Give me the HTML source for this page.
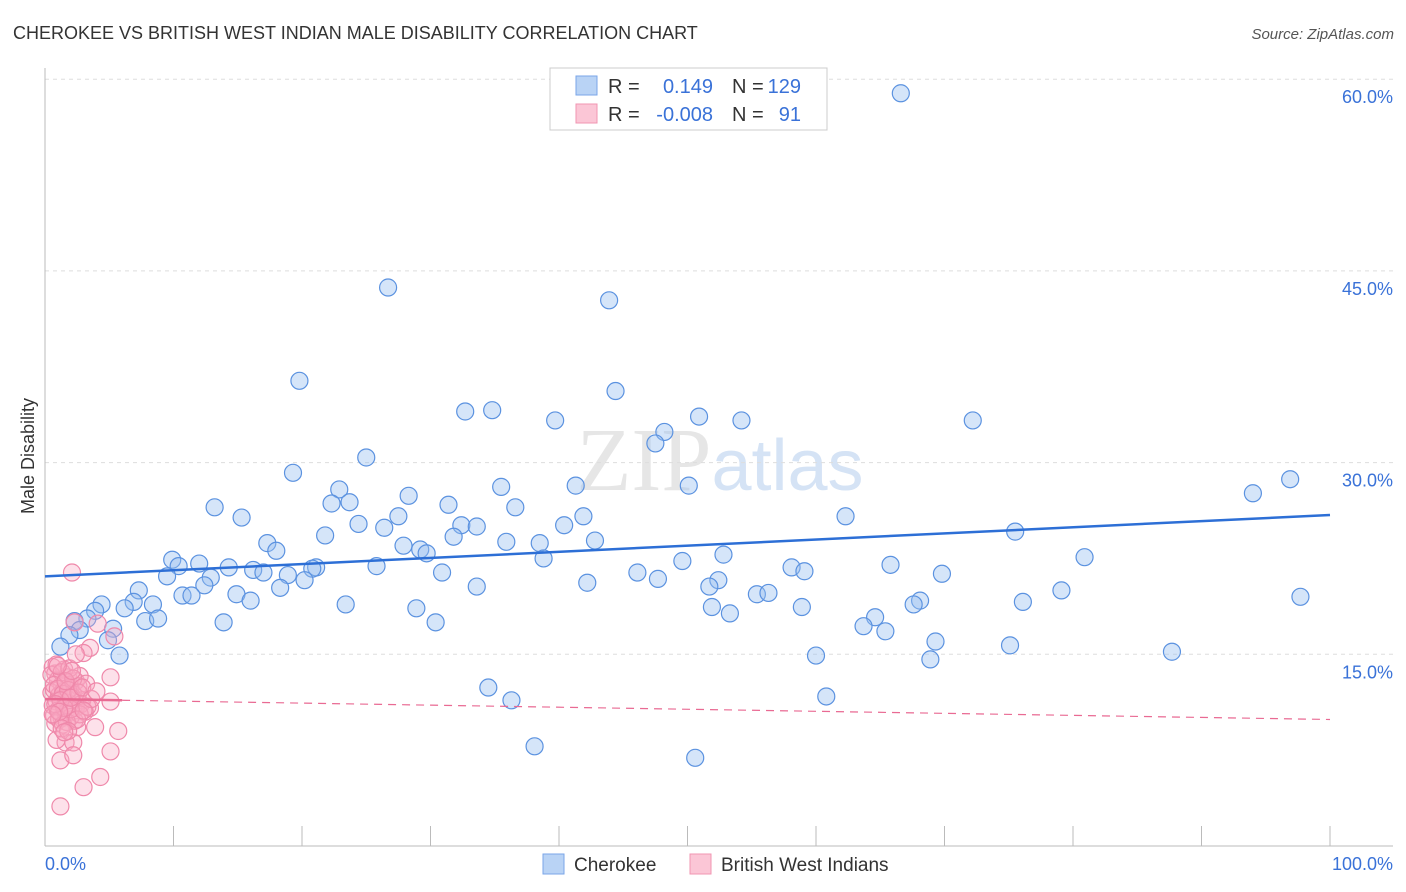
<!DOCTYPE html>
<html><head><meta charset="utf-8"><style>
body{margin:0;background:#fff;font-family:"Liberation Sans",sans-serif;}
svg{display:block}
</style></head><body>
<svg id="chart" width="1406" height="892" xmlns="http://www.w3.org/2000/svg">
<text x="13" y="39" font-size="18" fill="#333">CHEROKEE VS BRITISH WEST INDIAN MALE DISABILITY CORRELATION CHART</text>
<text x="1394" y="39" font-size="15" fill="#555" text-anchor="end" font-style="italic">Source: ZipAtlas.com</text>
<text x="720" y="490" font-size="90" fill="#e6e6e6" text-anchor="middle" font-family="Liberation Serif,serif">ZIP<tspan fill="#d5e3f5" font-family="Liberation Sans,sans-serif" font-size="72">atlas</tspan></text>
<g id="grid"></g><g id="axes"></g><g id="pts"></g><g id="trend"></g>
<text transform="translate(34,456) rotate(-90)" font-size="18" fill="#333" text-anchor="middle">Male Disability</text>
<g>
<rect x="550" y="68" width="277" height="62" fill="#fff" stroke="#ccc"/>
<rect x="576" y="76" width="21" height="19" fill="#b9d3f5" stroke="#7aa6e8"/>
<rect x="576" y="104" width="21" height="19" fill="#fbc6d6" stroke="#f095b2"/>
<text x="608" y="93" font-size="20" fill="#333">R =</text>
<text x="713" y="93" font-size="20" fill="#3a72d8" text-anchor="end">0.149</text>
<text x="732" y="93" font-size="20" fill="#333">N =</text>
<text x="801" y="93" font-size="20" fill="#3a72d8" text-anchor="end">129</text>
<text x="608" y="121" font-size="20" fill="#333">R =</text>
<text x="713" y="121" font-size="20" fill="#3a72d8" text-anchor="end">-0.008</text>
<text x="732" y="121" font-size="20" fill="#333">N =</text>
<text x="801" y="121" font-size="20" fill="#3a72d8" text-anchor="end">91</text>
</g>
<g>
<rect x="543" y="854" width="21" height="20" fill="#b9d3f5" stroke="#7aa6e8"/>
<text x="574" y="871" font-size="19" fill="#333">Cherokee</text>
<rect x="690" y="854" width="21" height="20" fill="#fbc6d6" stroke="#f095b2"/>
<text x="721" y="871" font-size="19" fill="#333">British West Indians</text>
</g>
</svg>
<script>
const yTicks=[15,30,45,60];
const yTickLabels=["15.0%","30.0%","45.0%","60.0%"];
const xTickCount=10;
const blueX=[66.6,26.7,43.9,19.8,44.4,32.7,34.8,39.7,50.9,54.2,72.2,48.2,47.5,25.0,19.3,96.9,94.0,22.9,35.5,41.3,50.1,28.3,13.2,22.3,23.7,31.4,36.6,15.3,27.5,41.9,62.3,24.4,26.4,32.4,33.6,40.4,75.5,21.8,31.8,35.9,38.5,17.3,27.9,42.8,18.0,29.2,29.7,38.8,52.8,80.9,9.9,12.0,10.4,21.1,14.3,25.8,49.6,65.8,20.8,16.2,17.0,58.1,59.1,46.1,30.9,9.5,12.9,18.9,20.2,47.7,69.8,52.4,51.7,12.4,18.3,42.2,33.6,7.3,10.7,11.4,14.9,16.0,55.4,56.3,79.1,97.7,6.9,4.4,8.4,6.2,23.4,28.9,51.9,58.9,68.1,67.6,76.1,3.9,53.3,64.6,7.8,8.8,13.9,30.4,3.3,2.3,63.7,65.4,2.7,5.3,1.9,4.9,69.3,75.1,1.2,5.8,60.0,68.9,87.7,34.5,36.3,60.8,38.1,50.6,56.7];
const blueY=[58.9,43.7,42.7,36.4,35.6,34.0,34.1,33.3,33.6,33.3,33.3,32.4,31.5,30.4,29.2,28.7,27.6,27.9,28.1,28.2,28.2,27.4,26.5,26.8,26.9,26.7,26.5,25.7,25.8,25.8,25.8,25.2,24.9,25.1,25.0,25.1,24.6,24.3,24.2,23.8,23.7,23.7,23.5,23.9,23.1,23.2,22.9,22.5,22.8,22.6,22.4,22.1,21.9,21.8,21.8,21.9,22.3,22.0,21.7,21.6,21.4,21.8,21.5,21.4,21.4,21.1,21.0,21.2,20.8,20.9,21.3,20.8,20.3,20.4,20.2,20.6,20.3,20.0,19.6,19.6,19.7,19.2,19.7,19.8,20.0,19.5,19.1,18.9,18.9,18.6,18.9,18.6,18.7,18.7,19.2,18.9,19.1,18.4,18.2,17.9,17.6,17.8,17.5,17.5,17.8,17.6,17.2,16.8,16.9,17.0,16.5,16.1,16.0,15.7,15.6,14.9,14.9,14.6,15.2,12.4,11.4,11.7,7.8,6.9,59.8];
const pinkX=[2.1,2.3,4.1,5.4,3.5,3.0,5.1,5.1,3.5,3.9,5.7,5.1,4.3,3.0,1.2,1.2,1.6,2.2,2.5,0.9,0.6,0.8,1.0,1.3,1.5,1.8,2.0,2.4,2.7,0.5,0.7,1.1,1.4,1.7,1.9,2.2,2.6,2.9,3.2,0.6,0.9,1.2,1.5,1.8,2.1,2.4,2.8,3.1,0.7,1.0,1.3,1.6,2.0,2.3,2.7,0.8,1.1,1.4,1.7,2.0,2.5,3.3,0.5,0.9,1.3,1.6,1.9,2.2,0.7,1.0,1.4,1.8,2.6,1.2,1.5,2.0,0.8,1.1,1.6,2.9,3.6,4.0,2.4,1.3,1.8,0.6,2.1,1.0,3.0,1.5,2.2];
const pinkY=[21.4,17.5,17.4,16.4,15.5,15.1,13.2,11.3,10.8,9.3,9.0,7.4,5.4,4.6,3.1,6.7,8.1,8.1,9.3,8.3,14.0,13.5,13.0,12.6,13.8,13.2,12.4,12.9,13.3,12.0,12.2,11.8,12.1,11.6,12.3,11.9,12.5,11.4,12.7,11.0,11.3,11.5,10.9,11.2,11.7,10.8,11.1,10.5,10.2,10.6,10.0,10.4,10.1,9.8,10.3,9.6,9.9,9.5,9.7,10.7,9.9,10.9,13.4,14.2,13.6,12.8,13.9,13.1,12.6,12.3,11.9,12.2,12.0,11.4,10.8,11.6,11.1,10.5,12.9,12.4,11.5,12.1,15.0,9.2,9.0,10.3,13.7,14.1,10.6,8.9,7.1];
const blueTrend=[21.1,25.9];
const pinkTrend=[11.5,9.9];
const NS="http://www.w3.org/2000/svg";
const X0=45,X1=1330,Y0=846,PY=12.78;
const xs=v=>X0+v/100*(X1-X0);
const ys=v=>Y0-v*PY;
function mk(parent,tag,attrs){const e=document.createElementNS(NS,tag);for(const k in attrs)e.setAttribute(k,attrs[k]);document.getElementById(parent).appendChild(e);return e;}
yTicks.forEach((t,i)=>{
 const l=mk('grid','line',{x1:X0,x2:1393,y1:ys(t),y2:ys(t),stroke:'#ddd','stroke-dasharray':'4,4'});
 
 
 const tx=mk('grid','text',{x:1393,y:ys(t)+24,'font-size':18,fill:'#3a72d8','text-anchor':'end'});
 tx.textContent=yTickLabels[i];
 
 
});
const ax=mk('axes','line',{x1:X0,x2:X0,y1:68,y2:Y0,stroke:'#bbb'});


const bx=mk('axes','line',{x1:X0,x2:1393,y1:Y0,y2:Y0,stroke:'#bbb'});


for(let i=1;i<=xTickCount;i++){const t=mk('axes','line',{x1:xs(i*100/xTickCount),x2:xs(i*100/xTickCount),y1:826,y2:Y0,stroke:'#bbb'});
 
 }
const xl0=mk('axes','text',{x:45,y:870,'font-size':18,fill:'#3a72d8'});xl0.textContent='0.0%';


const xl1=mk('axes','text',{x:1393,y:870,'font-size':18,fill:'#3a72d8','text-anchor':'end'});xl1.textContent='100.0%';


blueX.forEach((v,i)=>{const c=mk('pts','circle',{cx:xs(v),cy:ys(blueY[i]),r:8.5,fill:'rgba(150,190,240,0.4)',stroke:'#5b92e0','stroke-width':1.2});
 
 });
pinkX.forEach((v,i)=>{const c=mk('pts','circle',{cx:xs(v),cy:ys(pinkY[i]),r:8.5,fill:'rgba(248,170,195,0.35)',stroke:'#ef88aa','stroke-width':1.2});
 
 });
const bt=mk('trend','line',{x1:xs(0),y1:ys(blueTrend[0]),x2:xs(100),y2:ys(blueTrend[1]),stroke:'#2d6fd6','stroke-width':2.5});


const pm=pinkTrend[0]+(pinkTrend[1]-pinkTrend[0])*0.06;
const p1=mk('trend','line',{x1:xs(0),y1:ys(pinkTrend[0]),x2:xs(6),y2:ys(pm),stroke:'#e96a93','stroke-width':2.5});


const p2=mk('trend','line',{x1:xs(6),y1:ys(pm),x2:xs(100),y2:ys(pinkTrend[1]),stroke:'#e96a93','stroke-width':1.2,'stroke-dasharray':'8,6'});


</script>
</body></html>
